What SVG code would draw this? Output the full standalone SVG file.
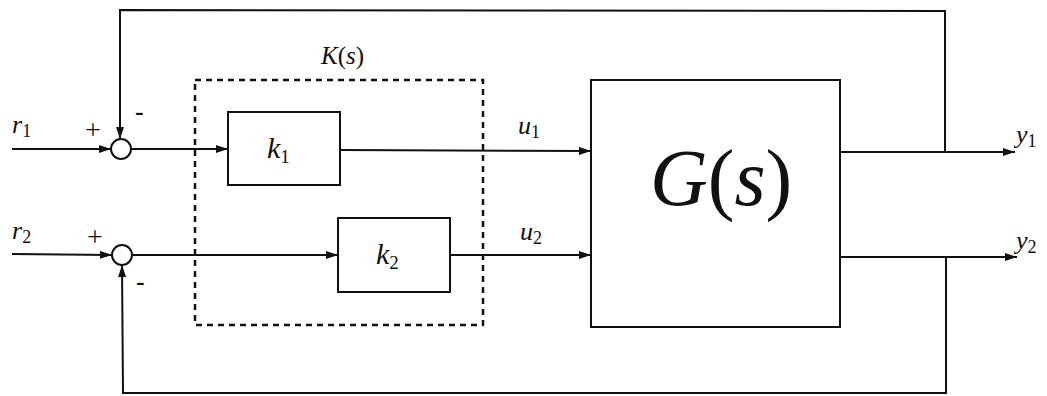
<svg xmlns="http://www.w3.org/2000/svg" width="1047" height="396" viewBox="0 0 1047 396">
<defs>
<marker id="ah" viewBox="0 0 12 8" refX="12" refY="4" markerWidth="12" markerHeight="8" markerUnits="userSpaceOnUse" orient="auto">
<path d="M0,0 L12,4 L0,8 Z" fill="#111"/>
</marker>
</defs>
<style>
.ar{fill:none;stroke:#111;stroke-width:2;marker-end:url(#ah)}
.blk{fill:#fff;stroke:#111;stroke-width:2}
.dash{fill:none;stroke:#111;stroke-width:2.5;stroke-dasharray:6,5}
text{font-family:"Liberation Serif","Times New Roman","DejaVu Serif",serif;fill:#111}
.t{font-style:italic}
.u{font-style:normal}
</style>
<rect width="1047" height="396" fill="#fff"/>
<g id="K">
<rect class="dash" x="195" y="80" width="288" height="245"/>
<text class="t" x="321" y="64" font-size="25">K<tspan class="u">(</tspan>s<tspan class="u">)</tspan></text>
</g>
<g id="sum1">
<circle class="blk" cx="121" cy="149" r="10"/>
<text class="u" x="85" y="139" font-size="28">+</text>
<text class="u" x="135" y="120" font-size="26" font-weight="bold">-</text>
</g>
<g id="sum2">
<circle class="blk" cx="122" cy="255" r="10"/>
<text class="u" x="87" y="246" font-size="28">+</text>
<text class="u" x="136" y="290" font-size="26" font-weight="bold">-</text>
</g>
<g id="k1">
<rect class="blk" x="228" y="112" width="112" height="73"/>
<text class="t" x="267" y="158" font-size="30">k<tspan class="u" font-size="19" dy="5">1</tspan></text>
</g>
<g id="k2">
<rect class="blk" x="338" y="218" width="112" height="74"/>
<text class="t" x="376" y="264" font-size="30">k<tspan class="u" font-size="19" dy="5">2</tspan></text>
</g>
<g id="G">
<rect class="blk" x="591" y="80" width="249" height="247"/>
<text class="t" x="650" y="205" font-size="80">G<tspan class="u">(</tspan>s<tspan class="u">)</tspan></text>
</g>
<g id="labels">
<text class="t" x="12" y="133" font-size="26">r<tspan class="u" font-size="18" dy="4">1</tspan></text>
<text class="t" x="12" y="239" font-size="26">r<tspan class="u" font-size="18" dy="4">2</tspan></text>
<text class="t" x="518" y="134" font-size="26">u<tspan class="u" font-size="18" dy="4">1</tspan></text>
<text class="t" x="520" y="240" font-size="26">u<tspan class="u" font-size="18" dy="4">2</tspan></text>
<text class="t" x="1016" y="143" font-size="26">y<tspan class="u" font-size="18" dy="4">1</tspan></text>
<text class="t" x="1016" y="249" font-size="26">y<tspan class="u" font-size="18" dy="4">2</tspan></text>
</g>
<g id="connectors">
<line class="ar" x1="12" y1="149" x2="111" y2="149"/>
<line class="ar" x1="131" y1="149" x2="228" y2="149"/>
<line class="ar" x1="340" y1="150" x2="591" y2="151"/>
<line class="ar" x1="12" y1="254" x2="112" y2="255"/>
<line class="ar" x1="132" y1="255" x2="338" y2="255"/>
<line class="ar" x1="450" y1="255" x2="591" y2="255"/>
<line class="ar" x1="840" y1="152" x2="1015" y2="152"/>
<line class="ar" x1="840" y1="257" x2="1017" y2="257"/>
<polyline class="ar" points="945,152 945,11 120,10 120,139"/>
<polyline class="ar" points="946,257 946,393 123,393 122,265"/>
</g>
</svg>
